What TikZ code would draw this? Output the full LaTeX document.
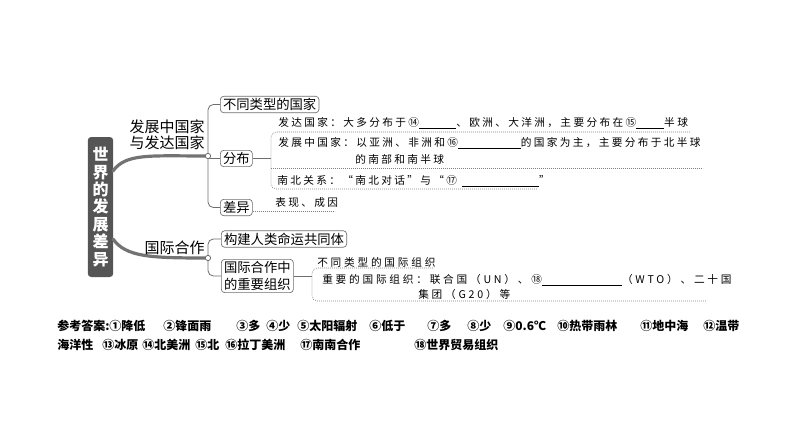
\documentclass[tikz,border=0pt]{standalone}
\usepackage{fontspec}
\setmainfont{Noto Sans CJK SC}
\newfontfamily\notefont{Noto Sans CJK SC}[LetterSpace=22]
\newfontfamily\orgfont{Noto Sans CJK SC}[LetterSpace=26]
\newcommand{\blank}[1]{\rule[-1.2pt]{#1}{0.6pt}}
\definecolor{trunkgray}{HTML}{737373}
\definecolor{rootgray}{HTML}{555555}
\definecolor{linegray}{HTML}{6E6E6E}
\tikzset{
  root/.style={fill=rootgray, rounded corners=2.5pt, text=white, align=center,
    minimum width=19pt, minimum height=105pt, inner sep=0pt,
    font=\bfseries\fontsize{12}{13.1}\selectfont},
  box/.style={draw=linegray, line width=0.5pt, rounded corners=2.5pt, fill=white,
    anchor=west, inner xsep=2pt, inner ysep=1.5pt, font=\fontsize{10}{12.75}\selectfont},
  branch/.style={anchor=east, inner sep=0pt, align=center, font=\fontsize{11.25}{12}\selectfont},
  note/.style={anchor=west, inner sep=0pt, font=\notefont\fontsize{8}{9.6}\selectfont},
  orgnote/.style={note, font=\orgfont\fontsize{8}{9.6}\selectfont},
  answer/.style={anchor=west, inner sep=0pt, font=\bfseries\fontsize{9}{10}\selectfont},
  trunk/.style={draw=trunkgray, line width=2.4pt, line cap=round},
  twig/.style={draw=linegray, line width=0.6pt},
  dots/.style={draw=gray, line width=0.5pt, dash pattern=on 0.6pt off 0.9pt},
  hub/.style={circle, draw=linegray, fill=white, line width=0.6pt, inner sep=0pt, minimum size=4pt}
}
\begin{document}
\begin{tikzpicture}[x=0.75pt,y=-0.75pt]
\useasboundingbox (0,0) rectangle (794,447);

\node[root] (root) at (100.5,207) {世\\界\\的\\发\\展\\差\\异};
\coordinate (r1) at (113,171);
\coordinate (r2) at (113,239);
\coordinate (h1) at (208,156);
\coordinate (h2) at (208,258);
\draw[trunk] (r1) .. controls (126,153) and (150,156) .. (h1);
\draw[trunk] (r2) .. controls (126,257) and (150,258) .. (h2);

\node[branch] (devlabel) at (205,135) {发展中国家\\与发达国家};
\node[branch] (coop) at (205,248) {国际合作};

\node[box] (types) at (220,104.5) {不同类型的国家};
\node[box] (dist) at (220,158.5) {分布};
\node[box] (diff) at (220,207.5) {差异};
\node[box] (unity) at (221,239) {构建人类命运共同体};
\node[box, align=left] (org) at (221,276) {国际合作中\\的重要组织};

\draw[twig, rounded corners=4pt] (types.west) -| (diff.west -| h1) -- (diff.west);
\draw[twig] (dist.west -| h1) -- (dist.west);
\draw[twig, rounded corners=4pt] (unity.west) -| (org.west -| h2) -- (org.west);
\node[hub] (hub1) at (h1) {};
\node[hub] (hub2) at (h2) {};

\node[note] (dev) at (278,123) {发达国家：大多分布于⑭\blank{28pt}、欧洲、大洋洲，主要分布在⑮\blank{21pt}半球};
\node[note] (devg1) at (278,143) {发展中国家：以亚洲、非洲和⑯\blank{47pt}的国家为主，主要分布于北半球};
\node[note] (devg2) at (355,159) {的南部和南半球};
\node[note] (nsrel) at (277,181) {南北关系：“南北对话”与“⑰ \blank{58pt}”};
\coordinate (b1) at (271,132);
\draw[dots, rounded corners=4pt] (690,132) -- (b1) -- (271,189) -- (537,189);
\draw[dots] (271,168) -- (703,168);
\draw[twig] (dist.east) -- (dist.east -| b1);

\node[note] (diffnote) at (275,202) {表现、成因};
\draw[dots] ([yshift=-2.6pt]diff.east) -- ++(82,0);

\node[orgnote] (orgtypes) at (317,262) {不同类型的国际组织};
\node[orgnote] (orgmain1) at (322,280) {重要的国际组织：联合国（UN）、⑱\blank{60pt}（WTO）、二十国};
\node[orgnote] (orgmain2) at (418,294) {集团（G20）等};
\coordinate (b2) at (312,268);
\draw[dots, rounded corners=4pt] (433,268) -- (b2) -- (312,301) -- (707,301);
\draw[twig] (org.east) -- (org.east -| b2);

\foreach \px/\ans [count=\i] in {57/参考答案:①降低, 163/②锋面雨, 236/③多, 266/④少,
    297/⑤太阳辐射, 369/⑥低于, 427/⑦多, 467/⑧少, 503/⑨0.6℃, 557/⑩热带雨林,
    640/⑪地中海, 703/⑫温带}
  \node[answer] (ansa\i) at (\px,326) {\ans};
\foreach \px/\ans [count=\i] in {57/海洋性, 102/⑬冰原, 142/⑭北美洲, 195/⑮北,
    225/⑯拉丁美洲, 300/⑰南南合作, 414/⑱世界贸易组织}
  \node[answer] (ansb\i) at (\px,345) {\ans};
\end{tikzpicture}
\end{document}
